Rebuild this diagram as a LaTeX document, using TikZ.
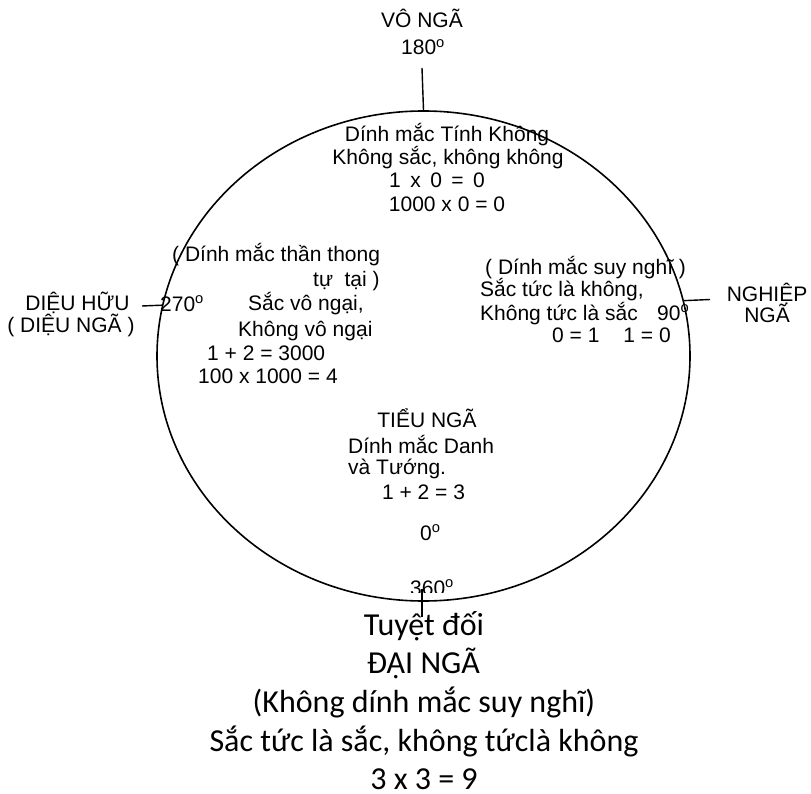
\documentclass[tikz,border=0pt]{standalone}
\usepackage{fontspec}
\setmainfont{Liberation Sans}
\newfontfamily\calib{Carlito}
\usetikzlibrary{shapes.geometric}
\begin{document}
\begin{tikzpicture}[x=1pt,y=-1pt,
  lbl/.style={inner sep=0pt, font=\fontsize{21}{23.5}\selectfont, anchor=base},
  lblw/.style={lbl, anchor=base west},
  big/.style={inner sep=0pt, font=\calib\fontsize{32}{38}\selectfont, anchor=base},
  conn/.style={line width=1.4pt},
  ringstyle/.style={draw, ellipse, line width=1.6pt, inner sep=0pt}]
\useasboundingbox (0,0) rectangle (811,794);
\node[ringstyle, minimum width=533pt, minimum height=490pt] (ring) at (423.5,356) {};
% top
\node[lbl] (vo) at (422,28) {VÔ NGÃ};
\node[lbl] (d180) at (423,55) {180\textsuperscript{o}};
\coordinate (t1) at (422,68);
\draw[conn] (t1) -- (ring.north);
\node[lbl] (tb1) at (447,142) {Dính mắc Tính Không};
\node[lbl] (tb2) at (448,165) {Không sắc, không không};
\node[lbl] (tb3) at (437,188) {1\hspace{0.45em}x\hspace{0.45em}0\hspace{0.45em}=\hspace{0.45em}0};
\node[lbl] (tb4) at (447,211.5) {1000 x 0 = 0};
% left
\node[lbl] (dh1) at (77.5,310) {DIỆU HỮU};
\node[lbl] (dh2) at (71,332) {( DIỆU NGÃ )};
\coordinate (l1) at (142,306);
\draw[conn] (l1) -- (ring.169);
\node[lblw] (d270) at (160,311.5) {270\textsuperscript{o}};
\node[lblw] (lb1) at (172,261.5) {( Dính mắc thần thong};
\node[lblw] (lb2) at (313,286.5) {tự\hspace{0.55em}tại )};
\node[lblw] (lb3) at (248,311) {Sắc vô ngại,};
\node[lblw] (lb4) at (238,336) {Không vô ngại};
\node[lblw] (lb5) at (207,360) {1 + 2 = 3000};
\node[lblw] (lb6) at (198,383) {100 x 1000 = 4};
% right
\node[lblw] (rb1) at (485,275) {( Dính mắc suy nghĩ )};
\node[lblw] (rb2) at (480,297) {Sắc tức là không,};
\node[lblw] (rb3) at (480,320) {Không tức là sắc};
\node[lblw] (rb4) at (552,342) {0 = 1\hspace{24pt}1 = 0};
\node[lblw] (d90) at (657,320) {90\textsuperscript{o}};
\coordinate (r1) at (710,299.5);
\draw[conn] (ring.12) -- (r1);
\node[lbl] (ng1) at (767,301.5) {NGHIỆP};
\node[lbl] (ng2) at (767,323) {NGÃ};
% centre
\node[lbl] (cb1) at (427,427) {TIỂU NGÃ};
\node[lblw] (cb2) at (348,453) {Dính mắc Danh};
\node[lblw] (cb3) at (348,474) {và Tướng.};
\node[lbl] (cb4) at (423.5,499) {1 + 2 = 3};
\node[lblw] (d0) at (420,540) {0\textsuperscript{o}};
\begin{scope}
\clip (395,560) rectangle (475,592);
\node[lblw] (d360) at (410,595) {360\textsuperscript{o}};
\end{scope}
\coordinate (b1) at (422,589);
\coordinate (b2) at (422,617);
\draw[conn] (b1) -- (b2);
% bottom
\node[big] (bt1) at (424,635) {Tuyệt đối};
\node[big] (bt2) at (423.5,673.5) {ĐẠI NGÃ};
\node[big] (bt3) at (424,712.5) {(Không dính mắc suy nghĩ)};
\node[big] (bt4) at (424,751) {Sắc tức là sắc, không tứclà không};
\node[big] (bt5) at (424,789.5) {3 x 3 = 9};
\end{tikzpicture}
\end{document}
